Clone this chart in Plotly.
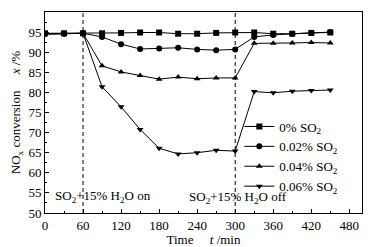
import plotly.graph_objects as go

time_min = [0, 30, 60, 90, 120, 150, 180, 210, 240, 270, 300, 330, 360, 390, 420, 450]
so2_000 = [94.7, 94.7, 94.7, 94.7, 94.8, 94.9, 94.9, 94.6, 94.6, 94.8, 94.9, 94.9, 94.6, 94.6, 94.8, 94.9]
so2_002 = [94.5, 94.6, 94.7, 93.8, 92.0, 90.8, 90.9, 91.1, 90.7, 90.5, 90.7, 93.8, 94.3, 94.6, 94.8, 95.0]
so2_004 = [94.5, 94.6, 94.7, 86.6, 85.1, 84.2, 83.3, 83.8, 83.4, 83.6, 83.6, 92.2, 92.2, 92.3, 92.4, 92.3]
so2_006 = [94.6, 94.6, 94.7, 81.4, 76.4, 70.8, 66.1, 64.7, 65.0, 65.6, 65.4, 80.2, 79.9, 80.3, 80.5, 80.6]

series_names = ["0% SO<sub>2</sub>", "0.02% SO<sub>2</sub>", "0.04% SO<sub>2</sub>", "0.06% SO<sub>2</sub>"]
series_values = [so2_000, so2_002, so2_004, so2_006]
symbols = ["square", "circle", "triangle-up", "triangle-down"]

x_ticks = [0, 60, 120, 180, 240, 300, 360, 420, 480]
y_ticks = [50, 55, 60, 65, 70, 75, 80, 85, 90, 95, 100]
switch_times = [60, 300]

FONT = "Liberation Serif, Times New Roman, serif"
FS = 13

fig = go.Figure()
for name, vals, sym in zip(series_names, series_values, symbols):
    fig.add_trace(go.Scatter(
        x=time_min, y=vals, mode="lines+markers", name=name,
        line=dict(color="black", width=1),
        marker=dict(symbol=sym, size=6, color="black"),
    ))

for t in switch_times:
    fig.add_shape(type="line", x0=t, x1=t, y0=0, y1=1, xref="x", yref="paper",
                  line=dict(color="black", width=1, dash="4px,3px"))

fig.add_annotation(x=92, y=54.0, xref="x", yref="y", showarrow=False,
                   text="SO<sub>2</sub>+15% H<sub>2</sub>O on",
                   font=dict(family=FONT, size=FS, color="black"))
fig.add_annotation(x=304, y=53.8, xref="x", yref="y", showarrow=False,
                   text="SO<sub>2</sub>+15% H<sub>2</sub>O off",
                   font=dict(family=FONT, size=FS, color="black"))

axis_common = dict(
    showline=True, linecolor="black", linewidth=1, mirror=True,
    ticks="inside", ticklen=4, tickcolor="black", showgrid=False, zeroline=False,
    tickfont=dict(family=FONT, size=FS, color="black"), automargin=False,
)

fig.update_xaxes(range=[0, 500], tickvals=x_ticks,
                 minor=dict(dtick=30, tick0=0, ticks="inside", ticklen=2, tickcolor="black"),
                 title=dict(text="Time     <i>t</i> /min", font=dict(family=FONT, size=FS, color="black"),
                            standoff=4),
                 **axis_common)
fig.update_yaxes(range=[50, 100], tickvals=y_ticks,
                 minor=dict(dtick=2.5, tick0=50, ticks="inside", ticklen=2, tickcolor="black"),
                 title=dict(text="NO<sub>x</sub> conversion     <i>x</i> /%", font=dict(family=FONT, size=FS, color="black"),
                            standoff=4),
                 **axis_common)

# page body has an 8px default margin; figure is sized/margined to compensate
fig.update_layout(
    width=363, height=239,
    margin=dict(l=37, r=9, t=4, b=34),
    paper_bgcolor="white", plot_bgcolor="white",
    showlegend=True,
    legend=dict(x=0.613, y=0.505, xanchor="left", yanchor="top",
                bgcolor="rgba(0,0,0,0)", borderwidth=0,
                font=dict(family=FONT, size=FS, color="black"),
                itemwidth=30, tracegroupgap=0),
)

fig.write_html("out.html")
